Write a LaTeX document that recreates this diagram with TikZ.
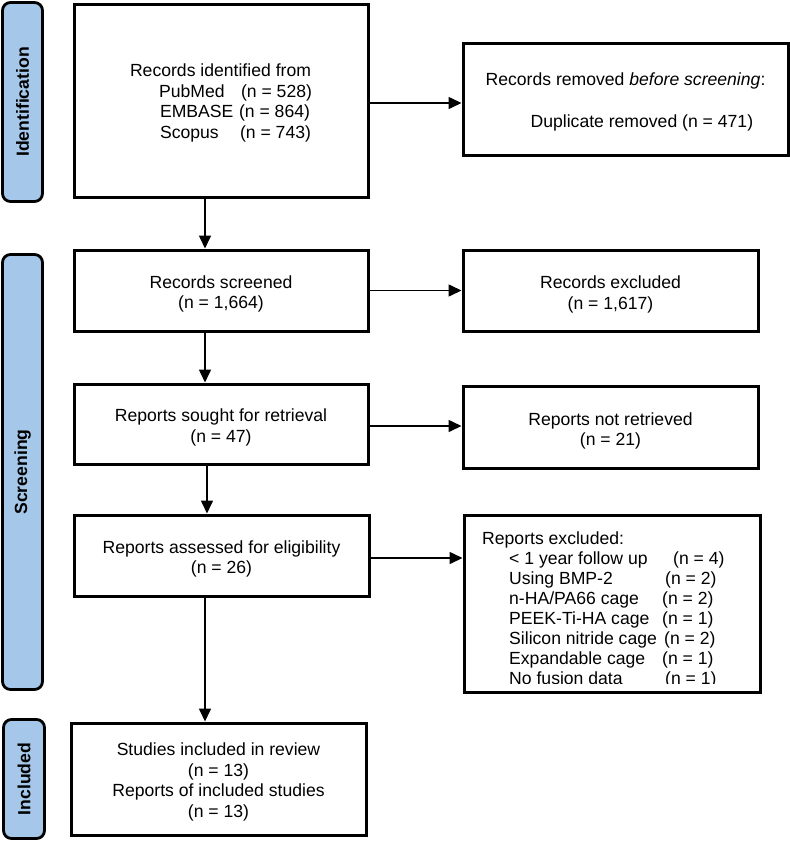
\documentclass[tikz,border=0pt]{standalone}
\usepackage{fontspec}
\setmainfont{Liberation Sans}
\usetikzlibrary{arrows.meta}
\definecolor{barblue}{RGB}{165,200,234}
\begin{document}
\begin{tikzpicture}[x=1pt,y=-1pt,
  txt/.style={font=\fontsize{17.6}{20.7}\selectfont, inner sep=0pt, align=center},
  box/.style={draw, line width=3pt, fill=white, inner sep=0pt},
  bar/.style={draw, line width=2.8pt, fill=barblue, rounded corners=8pt, inner sep=0pt},
  barlabel/.style={rotate=90, inner sep=0pt, font=\fontsize{17.6}{20.7}\selectfont\bfseries},
  arr/.style={line width=1.6pt, -{Triangle[length=13pt,width=12pt]}}]
\useasboundingbox (0,0) rectangle (790,841);

% side bars
\node[bar, minimum width=40pt, minimum height=199pt] (bid) at (22.5,102) {};
\node[barlabel] (bidtxt) at (bid.center) {Identification};
\node[bar, minimum width=40pt, minimum height=435pt] (bscr) at (22.5,472) {};
\node[barlabel] (bscrtxt) at (bscr.center) {Screening};
\node[bar, minimum width=41pt, minimum height=119pt] (binc) at (24,779) {};
\node[barlabel] (binctxt) at (binc.center) {Included};

% left column boxes
\node[box, minimum width=294pt, minimum height=193pt] (id) at (221,100.5) {};
\node[box, minimum width=294pt, minimum height=81pt] (scr) at (221,290.5) {};
\node[box, minimum width=294pt, minimum height=80pt] (sought) at (221,424) {};
\node[box, minimum width=295pt, minimum height=81pt] (assess) at (221.5,555.5) {};
\node[box, minimum width=295pt, minimum height=112pt] (incl) at (218.5,779) {};

% right column boxes
\node[box, minimum width=325pt, minimum height=112pt] (rem) at (625.5,99) {};
\node[box, minimum width=295pt, minimum height=81pt] (exc) at (610.5,290.5) {};
\node[box, minimum width=295pt, minimum height=82pt] (notret) at (610.5,427) {};
\node[box, minimum width=296pt, minimum height=177pt] (rexc) at (612,603.5) {};

% texts
\node[txt] (idtxt) at ([yshift=-3pt]id.center)
  {\begin{tabular}{@{}l@{}}Records identified from\\
   \hspace*{29pt}\makebox[82pt][l]{PubMed}(n = 528)\\
   \hspace*{30pt}\makebox[79pt][l]{EMBASE}(n = 864)\\
   \hspace*{30pt}\makebox[80pt][l]{Scopus}(n = 743)\end{tabular}};
\node[txt] (scrtxt) at ([yshift=-3.5pt]scr.center) {Records screened\\(n = 1,664)};
\node[txt] (soughttxt) at ([yshift=-3.5pt]sought.center) {Reports sought for retrieval\\(n = 47)};
\node[txt] (assesstxt) at ([yshift=-3.5pt]assess.center) {Reports assessed for eligibility\\(n = 26)};
\node[txt] (incltxt) at ([yshift=-3pt]incl.center)
  {Studies included in review\\(n = 13)\\Reports of included studies\\(n = 13)};
\node[txt] (remtxt) at ([yshift=-3pt]rem.center)
  {\begin{tabular}{@{}l@{}}Records removed \textit{before screening}:\\[21.3pt]
   \hspace*{45pt}Duplicate removed (n = 471)\end{tabular}};
\node[txt] (exctxt) at ([yshift=-4pt]exc.center) {Records excluded\\(n = 1,617)};
\node[txt] (notrettxt) at ([yshift=-4pt]notret.center) {Reports not retrieved\\(n = 21)};
\begin{scope}
  \clip (463,514) rectangle (761,683);
  \node[anchor=north west, inner sep=0pt, font=\fontsize{17.6}{20.1}\selectfont] (rexctxt) at (482,530)
  {\begin{tabular}{@{}l@{}}Reports excluded:\\
   \hspace*{27pt}\makebox[164pt][l]{< 1 year follow up}(n = 4)\\
   \hspace*{27pt}\makebox[156pt][l]{Using BMP-2}(n = 2)\\
   \hspace*{27pt}\makebox[153pt][l]{n-HA/PA66 cage}(n = 2)\\
   \hspace*{27pt}\makebox[153pt][l]{PEEK-Ti-HA cage}(n = 1)\\
   \hspace*{27pt}\makebox[155pt][l]{Silicon nitride cage}(n = 2)\\
   \hspace*{27pt}\makebox[153pt][l]{Expandable cage}(n = 1)\\
   \hspace*{27pt}\makebox[156pt][l]{No fusion data}(n = 1)\end{tabular}};
\end{scope}

% connectors
\coordinate (vx) at (205,0);
\coordinate (vx2) at (207,0);
\draw[arr] ([yshift=-2.5pt]id.east) -- ([yshift=-2.5pt]id.east -| rem.west);
\draw[arr] (scr.east) -- (scr.east -| exc.west);
\draw[arr] ([yshift=-2pt]sought.east) -- ([yshift=-2pt]sought.east -| notret.west);
\draw[arr] ([yshift=-2.5pt]assess.east) -- ([yshift=-2.5pt]assess.east -| rexc.west);
\draw[arr] (id.south -| vx) -- (scr.north -| vx);
\draw[arr] (scr.south -| vx) -- (sought.north -| vx);
\draw[arr] (sought.south -| vx2) -- (assess.north -| vx2);
\draw[arr] (assess.south -| vx) -- (incl.north -| vx);
\end{tikzpicture}
\end{document}
